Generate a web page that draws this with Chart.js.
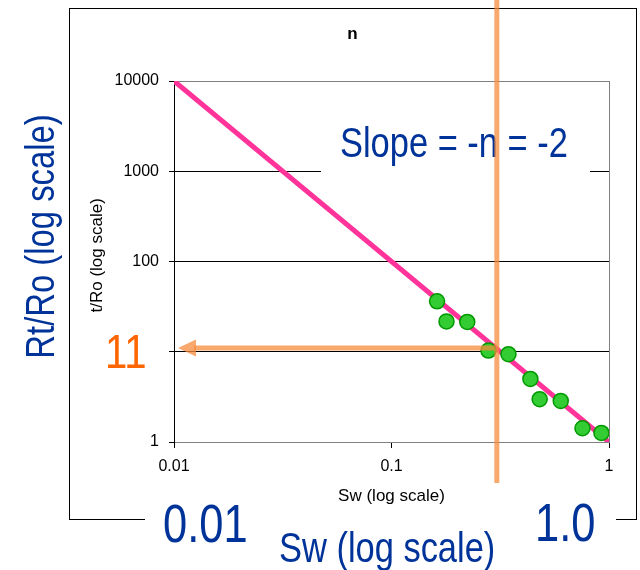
<!DOCTYPE html>
<html>
<head>
<meta charset="utf-8">
<script src="https://cdn.jsdelivr.net/npm/chart.js@4/dist/chart.umd.min.js"></script>
<style>
  html, body { margin: 0; padding: 0; background: #fff; }
  canvas { display: block; }
</style>
</head>
<body>
<canvas id="logChart" width="640" height="570"></canvas>
<script>
// measured points: water saturation vs resistivity index
const swData   = [0.162, 0.179, 0.223, 0.279, 0.345, 0.435, 0.48, 0.60, 0.755, 0.923];
const rtroData = [36.2, 21.7, 21.4, 10.3, 9.4, 5.0, 2.98, 2.85, 1.42, 1.26];

// fitted line, slope -2
const fitSw   = [0.01, 1];
const fitRtro = [10000, 1];

const xTicks = [0.01, 0.1, 1];
const yTicks = [1, 10, 100, 1000, 10000];

// read-off of the fit
const readRtro = 11;
const readSw = 0.305;

const FONT = "'Liberation Sans', Arial, sans-serif";
Chart.defaults.font.family = FONT;
Chart.defaults.color = '#000';

function narrowText(ctx, text, x, y, size, color, rot) {
  ctx.save();
  ctx.translate(x, y);
  if (rot) ctx.rotate(rot);
  ctx.scale(0.82, 1);
  ctx.font = size + 'px ' + FONT;
  ctx.fillStyle = color;
  ctx.textAlign = rot ? 'center' : 'left';
  ctx.textBaseline = 'alphabetic';
  ctx.fillText(text, 0, 0);
  ctx.restore();
}

const overlay = {
  id: 'overlay',
  beforeDraw(chart) {
    const ctx = chart.ctx;
    ctx.save();
    ctx.fillStyle = '#fff';
    ctx.fillRect(0, 0, chart.width, chart.height);
    ctx.strokeStyle = '#000';
    ctx.lineWidth = 1;
    ctx.strokeRect(69.5, 8.5, 567, 511);
    ctx.restore();
  },
  beforeDatasetsDraw(chart) {
    const ctx = chart.ctx, a = chart.chartArea;
    ctx.save();
    ctx.strokeStyle = '#808080';
    ctx.lineWidth = 1;
    ctx.beginPath();
    ctx.moveTo(a.right + 0.5, a.top);
    ctx.lineTo(a.right + 0.5, a.bottom);
    ctx.stroke();
    ctx.restore();
  },
  afterDraw(chart) {
    const ctx = chart.ctx, a = chart.chartArea;
    const blue = '#003399';
    ctx.save();

    // text boxes
    ctx.fillStyle = '#fff';
    ctx.fillRect(321, 105, 269, 90);
    ctx.fillRect(84, 312, 81, 66);
    ctx.fillRect(145, 509, 471, 61);

    // chart title
    ctx.font = 'bold 17px ' + FONT;
    ctx.fillStyle = '#000';
    ctx.textAlign = 'center';
    ctx.fillText('n', 352.5, 39);

    narrowText(ctx, 'Slope = -n = -2', 340, 157, 42, blue);
    narrowText(ctx, '0.01', 163, 541.5, 53, blue);
    narrowText(ctx, '1.0', 535, 541, 53, blue);
    narrowText(ctx, 'Sw (log scale)', 279, 562, 42, blue);
    narrowText(ctx, 'Rt/Ro (log scale)', 53.5, 236.5, 40, blue, -Math.PI / 2);
    narrowText(ctx, '11', 105, 368, 49, '#FF6600');

    // read-off lines
    const vx = chart.scales.x.getPixelForValue(readSw);
    const hy = chart.scales.y.getPixelForValue(readRtro);
    const tip = a.left + 4;
    ctx.strokeStyle = 'rgba(247,140,60,0.75)';
    ctx.fillStyle = 'rgba(247,140,60,0.75)';
    ctx.lineWidth = 5;
    ctx.beginPath();
    ctx.moveTo(vx, 0);
    ctx.lineTo(vx, 483);
    ctx.stroke();
    ctx.beginPath();
    ctx.moveTo(vx - 2.5, hy);
    ctx.lineTo(tip + 16, hy);
    ctx.stroke();
    ctx.beginPath();
    ctx.moveTo(tip, hy);
    ctx.lineTo(tip + 18, hy - 8.5);
    ctx.lineTo(tip + 18, hy + 8.5);
    ctx.closePath();
    ctx.fill();

    ctx.restore();
  }
};

new Chart(document.getElementById('logChart'), {
  type: 'scatter',
  data: {
    datasets: [{
      label: 'Sample data',
      data: swData.map((x, i) => ({ x: x, y: rtroData[i] })),
      backgroundColor: '#33CC33',
      borderColor: '#009900',
      borderWidth: 1.5,
      pointRadius: 7.5,
      order: 0
    }, {
      label: 'Fit',
      data: fitSw.map((x, i) => ({ x: x, y: fitRtro[i] })),
      showLine: true,
      borderColor: '#FF3399',
      borderWidth: 5,
      pointRadius: 0,
      order: 1
    }]
  },
  options: {
    responsive: false,
    devicePixelRatio: 1,
    animation: false,
    layout: {
      autoPadding: false,
      padding: { left: 80, right: 31, top: 81, bottom: 60 }
    },
    plugins: {
      legend: { display: false },
      tooltip: { enabled: false }
    },
    scales: {
      x: {
        type: 'logarithmic',
        min: 0.01,
        max: 1,
        afterBuildTicks: s => { s.ticks = xTicks.map(v => ({ value: v })); },
        afterFit: s => { s.height = 68; },
        ticks: { font: { size: 16 }, padding: 9, callback: v => String(v), maxRotation: 0 },
        grid: { drawOnChartArea: false, tickLength: 6, tickColor: '#000' },
        border: { color: '#808080', width: 1 },
        title: { display: true, text: 'Sw (log scale)', font: { size: 17 }, padding: { top: 0, bottom: 3 } }
      },
      y: {
        type: 'logarithmic',
        min: 1,
        max: 10000,
        afterBuildTicks: s => { s.ticks = yTicks.map(v => ({ value: v })); },
        afterFit: s => { s.width = 94; },
        ticks: { font: { size: 16 }, padding: 10, callback: v => String(v) },
        grid: {
          tickLength: 5,
          tickColor: '#000',
          color: c => (c.tick && (c.tick.value === 1 || c.tick.value === 10000)) ? '#808080' : '#000'
        },
        border: { color: '#000', width: 1 },
        title: { display: true, text: 'Rt/Ro (log scale)', font: { size: 17 }, padding: { top: 7, bottom: 0 } }
      }
    }
  },
  plugins: [overlay]
});
</script>
</body>
</html>
